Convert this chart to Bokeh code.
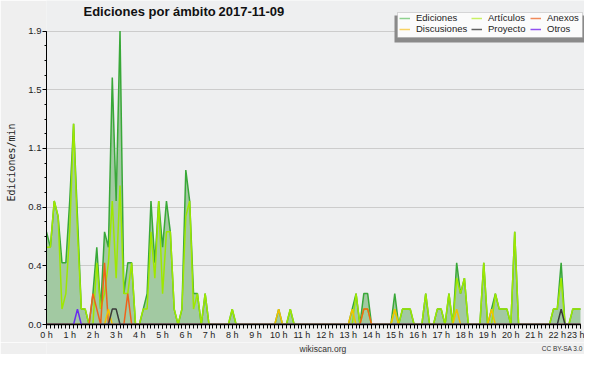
from bokeh.plotting import figure
from bokeh.layouts import column
from bokeh.models import (Range1d, FixedTicker, PrintfTickFormatter, Legend, LegendItem,
                          Label, BoxAnnotation, ColumnDataSource)
from bokeh.embed import file_html
from bokeh.resources import INLINE

# time axis: 10-minute steps from 0 h to 23 h
steps = list(range(139))
hours = list(range(24))
hour_labels = [f"{h} h" for h in hours]

edic = [0.6, 0.5, 0.8, 0.7, 0.4, 0.4, 0.8, 1.3, 0.7, 0.1, 0.1, 0, 0.2, 0.5, 0.1, 0.6, 0.5, 1.6, 0.8, 1.9,
        0.2, 0.4, 0.4, 0, 0, 0.1, 0.2, 0.8, 0.4, 0.8, 0.5, 0.8, 0.6, 0.1, 0, 0.1, 1.0, 0.8, 0.2, 0.2,
        0, 0.2, 0, 0, 0, 0, 0, 0, 0.1, 0, 0, 0, 0, 0, 0, 0, 0, 0, 0, 0,
        0.1, 0, 0, 0.1, 0, 0, 0, 0, 0, 0, 0, 0, 0, 0, 0, 0, 0, 0, 0, 0.1,
        0.2, 0, 0.2, 0.2, 0, 0, 0, 0, 0, 0, 0.2, 0, 0.1, 0.1, 0.1, 0, 0, 0, 0.2, 0,
        0, 0.1, 0.1, 0, 0.2, 0, 0.4, 0.2, 0.3, 0, 0, 0, 0, 0.4, 0, 0.1, 0.2, 0.1, 0.1, 0.1,
        0, 0.6, 0, 0, 0, 0, 0, 0, 0, 0, 0, 0.1, 0.1, 0.4, 0, 0, 0.1, 0.1, 0.1]
artic = [0.5, 0.5, 0.8, 0.7, 0.1, 0.2, 0.6, 1.3, 0.6, 0.1, 0.1, 0, 0, 0.4, 0.1, 0.2, 0.4, 0.8, 0.3, 0.9,
         0.2, 0.2, 0.4, 0, 0, 0.1, 0.1, 0.6, 0.3, 0.8, 0.2, 0.6, 0.6, 0.1, 0, 0.1, 0.7, 0.8, 0.1, 0.2,
         0, 0.2, 0, 0, 0, 0, 0, 0, 0.1, 0, 0, 0, 0, 0, 0, 0, 0, 0, 0, 0,
         0, 0, 0, 0.1, 0, 0, 0, 0, 0, 0, 0, 0, 0, 0, 0, 0, 0, 0, 0, 0,
         0.2, 0, 0.1, 0.1, 0, 0, 0, 0, 0, 0, 0.1, 0, 0.1, 0.1, 0.1, 0, 0, 0, 0.2, 0,
         0, 0.1, 0.1, 0, 0.2, 0, 0.3, 0.2, 0.3, 0, 0, 0, 0, 0.4, 0, 0, 0.2, 0.1, 0.1, 0.1,
         0, 0.6, 0, 0, 0, 0, 0, 0, 0, 0, 0, 0.1, 0.1, 0.3, 0, 0, 0.1, 0.1, 0.1]
# sparse series: step index -> value
anexos_pts = {12: 0.2, 13: 0.1, 15: 0.4, 21: 0.2, 82: 0.1, 83: 0.1}
discus_pts = {16: 0.1, 60: 0.1, 79: 0.1, 90: 0.1, 106: 0.1, 115: 0.1}
proyec_pts = {17: 0.1, 18: 0.1, 133: 0.1}
otros_pts = {8: 0.1}

y_ticks = [0, 0.38, 0.76, 1.14, 1.52, 1.9]

x = [s / 6 for s in steps]
def dense(pts):
    return [pts.get(s, 0) for s in steps]

src = ColumnDataSource(dict(x=x, edic=edic, artic=artic, anexos=dense(anexos_pts),
                            discus=dense(discus_pts), proyec=dense(proyec_pts),
                            otros=dense(otros_pts), zero=[0] * len(x),
                            blank=[float("nan")] * len(x)))

FONT = "Liberation Sans"
W, H, FOOT_H = 584, 342, 12
B_LEFT, B_BOTTOM = 46, 14
FRAME_W = W - B_LEFT
FRAME_H = H - B_BOTTOM
TOP_GAP = 31          # px between frame top and the 1.9 line
RIGHT_GAP = 4         # px between 23 h and frame right
y_top = y_ticks[-1] * FRAME_H / (FRAME_H - TOP_GAP)
x_end = 23 * FRAME_W / (FRAME_W - RIGHT_GAP)

p = figure(width=W, height=H, output_backend="svg", toolbar_location=None,
           x_range=Range1d(0, x_end), y_range=Range1d(0, y_top),
           min_border_left=B_LEFT, min_border_right=0, min_border_top=0, min_border_bottom=B_BOTTOM,
           background_fill_color="#eeeff0", border_fill_color="#efefef",
           outline_line_color=None)

p.varea(x="x", y1="zero", y2="edic", source=src, fill_color="#a2c9a2")
p.line(x="x", y="edic", source=src, line_color="#38a838", line_width=1.5)
p.line(x="x", y="artic", source=src, line_color="#9ee800", line_width=1.5)
p.line(x="x", y="anexos", source=src, line_color="#f0621a", line_width=1.5)
p.line(x="x", y="discus", source=src, line_color="#f2c200", line_width=1.5)
p.line(x="x", y="proyec", source=src, line_color="#3a3a3a", line_width=1.5)
p.line(x="x", y="otros", source=src, line_color="#6a2cf0", line_width=1.5)

# legend box with drop shadow
p.add_layout(BoxAnnotation(left=394, right=586, top=15, bottom=42,
                           left_units="canvas", right_units="canvas",
                           top_units="canvas", bottom_units="canvas",
                           fill_color="#8a8a8a", fill_alpha=1, line_color=None))
p.add_layout(BoxAnnotation(left=397, right=582, top=12, bottom=37,
                           left_units="canvas", right_units="canvas",
                           top_units="canvas", bottom_units="canvas",
                           fill_color="#fbfbfb", fill_alpha=1,
                           line_color="#8a8a8a", line_width=1))

# legend: three columns, pale swatches as in the original
columns = [(["Ediciones", "Discusiones"], ["#8fd18f", "#f8d262"], 353),
           (["Artículos", "Proyecto"], ["#c8f064", "#606060"], 425),
           (["Anexos", "Otros"], ["#f08a5a", "#9050f0"], 484)]
for names, cols, lx in columns:
    items = []
    for n, c in zip(names, cols):
        r = p.line(x="x", y="blank", source=src, line_color=c, line_width=1.5)
        items.append(LegendItem(label=n, renderers=[r]))
    leg = Legend(items=items, location=(lx, FRAME_H - 38), orientation="vertical",
                 label_text_font=FONT, label_text_font_size="9.5px", label_text_color="#222222",
                 label_height=10, glyph_height=10, glyph_width=11, label_standoff=6,
                 spacing=0, padding=0, margin=0,
                 border_line_color=None, background_fill_alpha=0)
    p.add_layout(leg, "center")

# axes
p.xaxis.ticker = FixedTicker(ticks=hours, minor_ticks=x)
p.xaxis.major_label_overrides = {h: l for h, l in zip(hours, hour_labels)}
p.xaxis.major_label_text_font = FONT
p.xaxis.major_label_text_font_size = "9px"
p.xaxis.major_label_text_color = "#222222"
p.xaxis.major_label_standoff = 1
p.xaxis.major_tick_out = 4
p.xaxis.major_tick_in = 0
p.xaxis.minor_tick_out = 4
p.xaxis.minor_tick_in = 0
p.xaxis.axis_line_width = 1.5
p.xaxis.axis_line_color = "black"
p.xaxis.bounds = (0, 23)

p.yaxis.ticker = FixedTicker(ticks=y_ticks, minor_ticks=[k * 0.095 for k in range(21)])
p.yaxis.formatter = PrintfTickFormatter(format="%.1f")
p.yaxis.bounds = (0, y_ticks[-1])
p.yaxis.major_label_text_font = FONT
p.yaxis.major_label_text_font_size = "9.5px"
p.yaxis.major_label_text_color = "#222222"
p.yaxis.major_label_standoff = 1
p.yaxis.major_tick_out = 4
p.yaxis.major_tick_in = 0
p.yaxis.minor_tick_out = 2
p.yaxis.minor_tick_in = 0
p.yaxis.axis_label = "Ediciones/min"
p.yaxis.axis_label_text_font = "DejaVu Sans Mono"
p.yaxis.axis_label_text_font_size = "10px"
p.yaxis.axis_label_text_font_style = "normal"
p.yaxis.axis_label_text_color = "#222222"
p.yaxis.axis_label_standoff = 8

p.xgrid.visible = False
p.ygrid.grid_line_color = "#cccccc"

# title inside the (extended) frame
p.add_layout(Label(x=37, y=FRAME_H - 15, x_units="screen", y_units="screen",
                   text="Ediciones por ámbito",
                   text_font=FONT, text_font_size="13px", text_font_style="bold",
                   text_baseline="middle", text_color="#111111"))
p.add_layout(Label(x=172, y=FRAME_H - 15, x_units="screen", y_units="screen",
                   text="2017-11-09",
                   text_font=FONT, text_font_size="13px", text_font_style="bold",
                   text_baseline="middle", text_color="#111111"))

# footer strip
f = figure(width=W, height=FOOT_H, output_backend="svg", toolbar_location=None,
           x_range=Range1d(0, W), y_range=Range1d(0, FOOT_H),
           min_border=0, background_fill_color="#efefef", border_fill_color="#efefef",
           outline_line_color=None)
f.axis.visible = False
f.grid.visible = False
f.add_layout(Label(x=300, y=FOOT_H / 2, text="wikiscan.org",
                   text_font=FONT, text_font_size="8.5px", text_align="center",
                   text_baseline="middle", text_color="#333333"))
f.add_layout(Label(x=582, y=FOOT_H / 2, text="CC BY-SA 3.0",
                   text_font=FONT, text_font_size="6.5px", text_align="right",
                   text_baseline="middle", text_color="#333333"))

layout = column(p, f, spacing=0)
open("out.html", "w").write(file_html(layout, INLINE))
